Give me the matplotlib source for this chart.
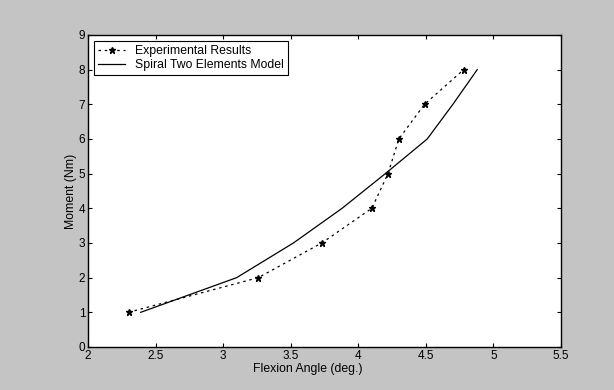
import numpy as np
import matplotlib.pyplot as plt

plt.rcParams['font.family'] = ['Liberation Sans', 'DejaVu Sans']

# experimental data
exp_angle = [2.3, 3.26, 3.73, 4.1, 4.22, 4.3, 4.49, 4.78]
exp_moment = [1, 2, 3, 4, 5, 6, 7, 8]

# spiral two elements model
mod_angle = [2.39, 3.1, 3.52, 3.88, 4.2, 4.51, 4.7, 4.88]
mod_moment = [1, 2, 3, 4, 5, 6, 7, 8]

xticks = [2, 2.5, 3, 3.5, 4, 4.5, 5, 5.5]
xtick_labels = ['2', '2.5', '3', '3.5', '4', '4.5', '5', '5.5']
yticks = list(range(10))

fig = plt.figure(figsize=(6.14, 3.9), dpi=100, facecolor='#c4c4c4')
ax = fig.add_axes([0.1433, 0.1103, 0.7704, 0.80])
ax.set_facecolor('white')

ax.plot(exp_angle, exp_moment, linestyle=(0, (2, 3)), color='black', lw=0.9,
        marker='*', markersize=4.5, label='Experimental Results')
ax.plot(mod_angle, mod_moment, '-', color='black', lw=0.9,
        label='Spiral Two Elements Model')

ax.set_xlim(2, 5.5)
ax.set_ylim(0, 9)
ax.set_xticks(xticks)
ax.set_xticklabels(xtick_labels)
ax.set_yticks(yticks)
ax.tick_params(direction='in', top=True, right=True, labelsize=8.5, length=3,
               width=0.8, pad=2)
for s in ax.spines.values():
    s.set_linewidth(1.0)

ax.set_xlabel('Flexion Angle (deg.)', fontsize=8.8, labelpad=0)
ax.xaxis.set_label_coords(0.465, -0.052)
ax.set_ylabel('Moment (Nm)', fontsize=8.8, labelpad=1)

leg = ax.legend(loc='upper left', fontsize=8.8, fancybox=False, framealpha=1,
                edgecolor='black', borderpad=0.35, handlelength=2.2,
                labelspacing=0.15, borderaxespad=0.5)
leg.get_frame().set_linewidth(0.8)

fig.savefig('out.png', dpi=100, facecolor=fig.get_facecolor())
